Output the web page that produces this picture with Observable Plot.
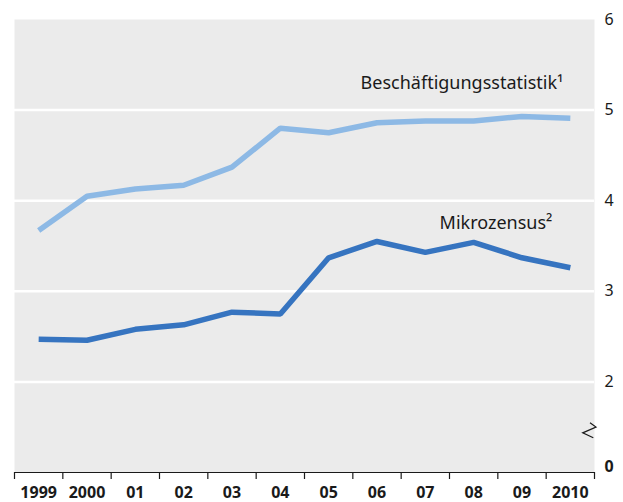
<!DOCTYPE html>
<html><head><meta charset="utf-8">
<script src="https://cdn.jsdelivr.net/npm/d3@7"></script>
<script src="https://cdn.jsdelivr.net/npm/@observablehq/plot@0.6"></script>
<style>body{margin:0;background:#fff;} svg{display:block}</style>
</head><body><div id="chart"></div>
<script>
const years = [1999,2000,2001,2002,2003,2004,2005,2006,2007,2008,2009,2010];
const yearLabels = ["1999","2000","01","02","03","04","05","06","07","08","09","2010"];
const beschaeftigung = [3.67,4.05,4.13,4.17,4.37,4.80,4.75,4.86,4.88,4.88,4.93,4.91];
const mikrozensus = [2.47,2.46,2.58,2.63,2.77,2.75,3.37,3.55,3.43,3.54,3.37,3.26];
const seriesNames = ["Beschäftigungsstatistik¹","Mikrozensus²"];
const seriesColors = ["#8db9e5","#3674c0"];
const yTicks = [2,3,4,5,6];
const yBreakBase = 1;      // value position where the "0" of the broken axis is drawn
const yBaseLabel = "0";

const data = [];
years.forEach((yr,i)=>{
  data.push({year:yr, value:beschaeftigung[i], series:seriesNames[0]});
  data.push({year:yr, value:mikrozensus[i], series:seriesNames[1]});
});
const x0 = years[0]-0.5, x1 = years[years.length-1]+0.5;
const boundaries = years.map(y=>y-0.5).concat([x1]);
const labelOf = new Map(years.map((y,i)=>[y,yearLabels[i]]));
const lastYear = years[years.length-1];
const font = "'Noto Sans', sans-serif";

const chart = Plot.plot({
  width:623, height:502,
  marginLeft:14, marginRight:29, marginTop:19, marginBottom:30,
  x:{domain:[x0,x1]},
  y:{domain:[yBreakBase,6]},
  color:{domain:seriesNames, range:seriesColors},
  style:{fontFamily:font, background:"white", color:"#1a1a1a"},
  marks:[
    Plot.frame({fill:"#ebebeb", stroke:null}),
    Plot.ruleY(yTicks.filter(d=>d<6), {stroke:"white", strokeWidth:2.5}),
    Plot.line(data, {x:"year", y:"value", z:"series", stroke:"series", strokeWidth:5.5, strokeLinejoin:"miter", strokeLinecap:"butt"}),
    Plot.text(data.filter(d=>d.year===lastYear && d.series===seriesNames[0]), {x:"year", y:"value", text:"series", textAnchor:"end", dx:-7, dy:-35, fontSize:18, fill:"#1a1a1a"}),
    Plot.text(data.filter(d=>d.year===lastYear && d.series===seriesNames[1]), {x:"year", y:"value", text:"series", textAnchor:"end", dx:-18, dy:-45, fontSize:18, fill:"#1a1a1a"}),
    Plot.ruleY([yBreakBase], {stroke:"#1a1a1a", strokeWidth:1.2}),
    Plot.axisX({ticks:boundaries, tickFormat:()=>"", tickSize:7, stroke:"#1a1a1a", strokeWidth:1.2, label:null}),
    Plot.axisX({ticks:years, tickFormat:d=>labelOf.get(d), tickSize:0, tickPadding:14, fontSize:16, fontWeight:"bold", label:null}),
    Plot.axisY({anchor:"right", ticks:yTicks, tickFormat:d=>String(d), tickSize:0, tickPadding:10, fontSize:16, textAnchor:"start", label:null}),
    Plot.axisY({anchor:"right", ticks:[yBreakBase], tickFormat:()=>yBaseLabel, tickSize:0, tickPadding:10, fontSize:16, fontWeight:"bold", textAnchor:"start", dy:-6, label:null})
  ]
});
document.getElementById("chart").appendChild(chart);

// axis-break zigzag, positioned through the scales
const xs = chart.scale("x"), ys = chart.scale("y");
const cx = xs.apply(x1) - 4.5, cy = ys.apply(1.46);
d3.select(chart).append("path")
  .attr("d", `M${cx+0.5},${cy-7.5}L${cx+6.5},${cy-3.2}L${cx-6.8},${cy+2.5}L${cx+3.8},${cy+7.5}`)
  .attr("fill","none").attr("stroke","#1a1a1a").attr("stroke-width",1.2);
</script>
</body></html>
